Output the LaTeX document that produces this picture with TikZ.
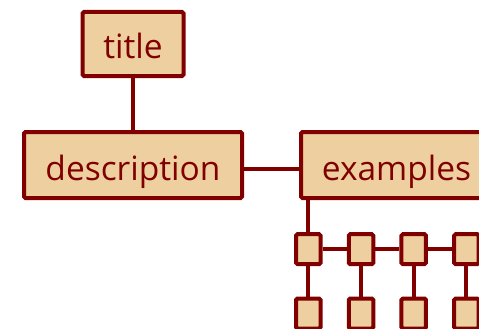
\documentclass[tikz,border=0pt]{standalone}
\usepackage{fontspec}
\setmainfont{Open Sans}
\usetikzlibrary{positioning}
\definecolor{boxfill}{RGB}{238,207,160}
\definecolor{boxline}{RGB}{128,0,0}
\tikzset{
  box/.style={draw=boxline, fill=boxfill, line width=4pt, rounded corners=1.5pt,
    text=boxline, font=\fontsize{33.5}{36}\selectfont, inner sep=0pt,
    text height=30pt, text depth=0pt},
  cell/.style={box, minimum width=24.5pt, minimum height=29.5pt},
  link/.style={draw=boxline, line width=4pt}
}

\begin{document}
\begin{tikzpicture}[x=1pt,y=1pt]
  \useasboundingbox (0,0) rectangle (479,-329);
  \clip (0,0) rectangle (479,-329);

  \node[box, minimum width=218pt, minimum height=66pt] (desc) at (133,-165) {description};
  \node[box, minimum width=101pt, minimum height=64pt, above=52pt of desc] (title) {title};
  \node[box, minimum width=191pt, minimum height=66pt, right=55pt of desc] (ex) {examples};

  % two rows of example cells
  \foreach \i in {1,...,4} {
    \node[cell] (top\i) at (255.6+52.7*\i,-249.2) {};
    \node[cell] (bot\i) at (255.6+52.7*\i,-313.5) {};
  }

  \draw[link] (title) -- (desc);
  \draw[link] ([yshift=-4pt]desc.east) -- ([yshift=-4pt]ex.west);
  \draw[link] (ex.south -| top1) -- (top1);
  \foreach \i [count=\j from 2] in {1,2,3}
    \draw[link] (top\i) -- (top\j);
  \foreach \i in {1,...,4}
    \draw[link] (top\i) -- (bot\i);

\end{tikzpicture}
\end{document}
